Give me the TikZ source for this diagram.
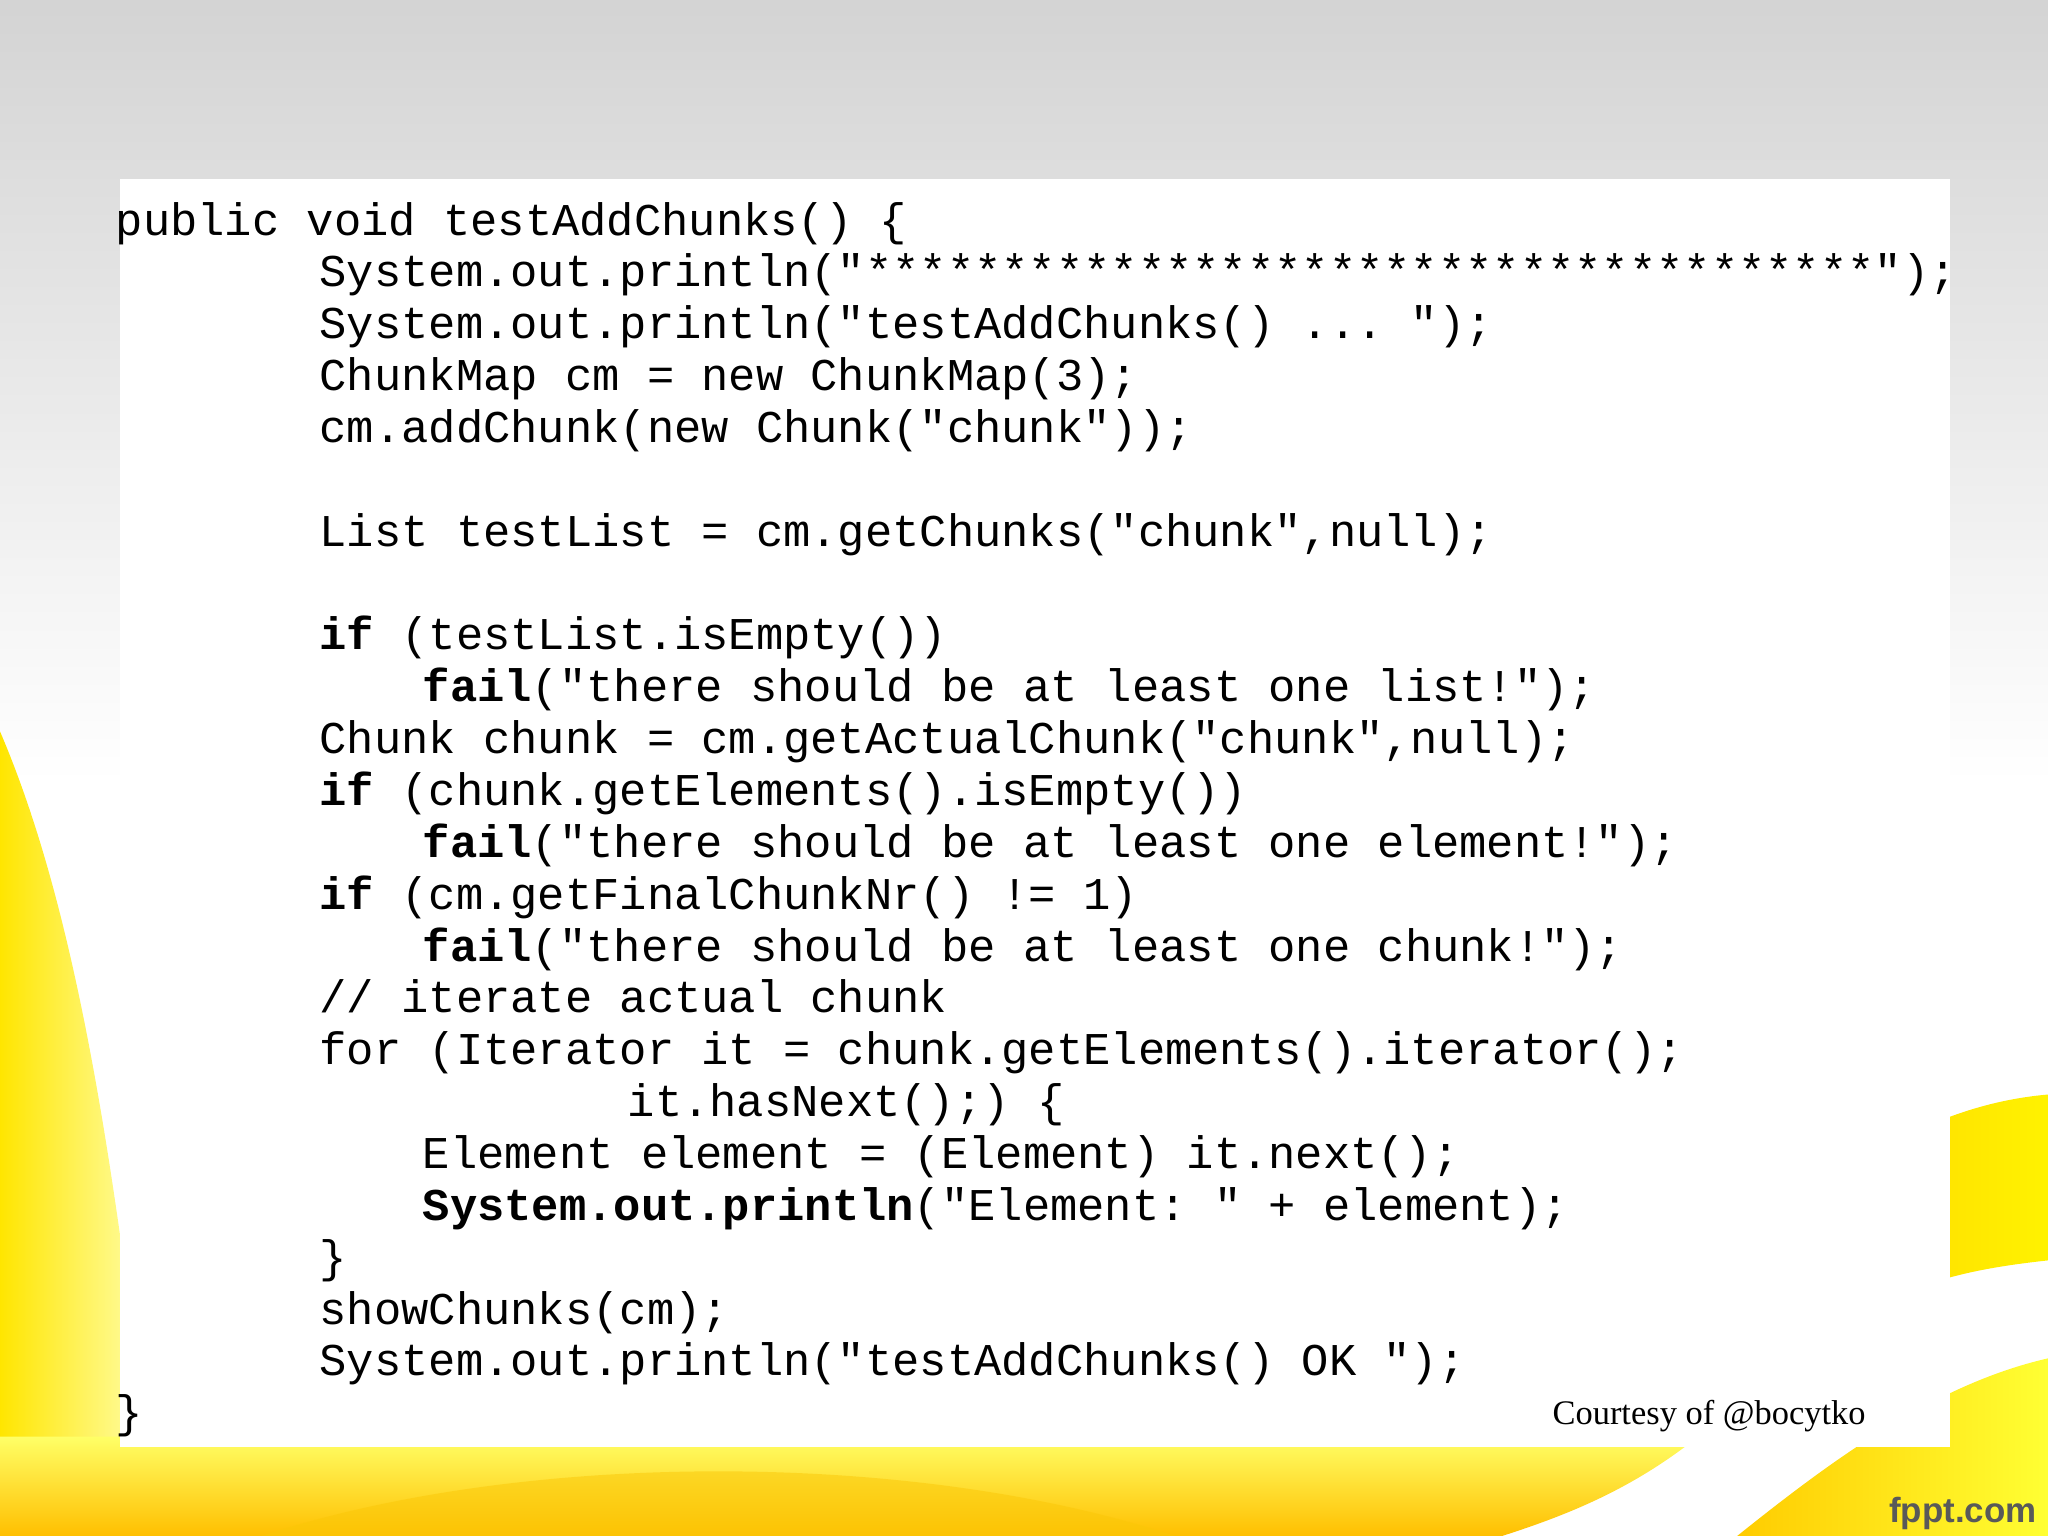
\documentclass[tikz,border=0pt]{standalone}
\usepackage{fontspec}
\setmonofont{Liberation Mono}
\newfontfamily\courfont{Liberation Serif}
\newfontfamily\fpptfont{Liberation Sans}
\begin{document}
\begin{tikzpicture}[x=0.01cm,y=-0.01cm,
  code/.style={anchor=base west,inner sep=0pt,font=\ttfamily\fontsize{9.9pt}{11pt}\selectfont,text=black}]
\useasboundingbox (0,0) rectangle (1568,1176);
\shade[top color=black!17,bottom color=white] (0,0) rectangle (1568,600);
% yellow swirls
\shade[left color=yellow!80!orange,right color=yellow!30] (0,560) .. controls (60,700) and (90,900) .. (120,1176) -- (0,1176) -- cycle;
\shade[top color=yellow!60,bottom color=orange!50!yellow] (0,1100) -- (1300,1100) .. controls (1250,1140) and (1200,1160) .. (1150,1176) -- (0,1176) -- cycle;
\fill[yellow!60!orange,opacity=0.5] (200,1176) .. controls (400,1110) and (700,1110) .. (900,1176) -- cycle;
\shade[left color=yellow!80!orange,right color=yellow!90!orange] (1493,855) .. controls (1520,845) and (1545,840) .. (1568,838) -- (1568,965) .. controls (1540,968) and (1515,972) .. (1493,978) -- cycle;
\shade[left color=orange!40!yellow,right color=yellow!80] (1330,1176) .. controls (1400,1120) and (1480,1060) .. (1568,1040) -- (1568,1176) -- cycle;
\fill[white] (92,137) rectangle (1493,1108);
\node[code] (l0) at (88,180) {public void testAddChunks() \{};
\node[code] (l1) at (244,219.7) {System.out.println("*************************************");};
\node[code] (l2) at (244,259.4) {System.out.println("testAddChunks() ... ");};
\node[code] (l3) at (244,299.1) {ChunkMap cm = new ChunkMap(3);};
\node[code] (l4) at (244,338.8) {cm.addChunk(new Chunk("chunk"));};
\node[code] (l6) at (244,418.2) {List testList = cm.getChunks("chunk",null);};
\node[code] (l8) at (244,497.6) {\textbf{if} (testList.isEmpty())};
\node[code] (l9) at (323,537.3) {\textbf{fail}("there should be at least one list!");};
\node[code] (l10) at (244,577.0) {Chunk chunk = cm.getActualChunk("chunk",null);};
\node[code] (l11) at (244,616.7) {\textbf{if} (chunk.getElements().isEmpty())};
\node[code] (l12) at (323,656.4) {\textbf{fail}("there should be at least one element!");};
\node[code] (l13) at (244,696.1) {\textbf{if} (cm.getFinalChunkNr() != 1)};
\node[code] (l14) at (323,735.8) {\textbf{fail}("there should be at least one chunk!");};
\node[code] (l15) at (244,775.5) {// iterate actual chunk};
\node[code] (l16) at (244,815.2) {for (Iterator it = chunk.getElements().iterator();};
\node[code] (l17) at (480,854.9) {it.hasNext();) \{};
\node[code] (l18) at (323,894.6) {Element element = (Element) it.next();};
\node[code] (l19) at (323,934.3) {\textbf{System.out.println}("Element: " + element);};
\node[code] (l20) at (244,974.0) {\}};
\node[code] (l21) at (244,1013.7) {showChunks(cm);};
\node[code] (l22) at (244,1053.4) {System.out.println("testAddChunks() OK ");};
\node[code] (l23) at (88,1093.1) {\}};
\node[anchor=base west,inner sep=0pt,font=\courfont\fontsize{7.5pt}{9pt}\selectfont] (court) at (1188,1091) {Courtesy of @bocytko};
\node[anchor=base east,inner sep=0pt,font=\fpptfont\bfseries\fontsize{7.6pt}{9pt}\selectfont,text=black!65] (fppt) at (1560,1166) {fppt.com};
\end{tikzpicture}
\end{document}
